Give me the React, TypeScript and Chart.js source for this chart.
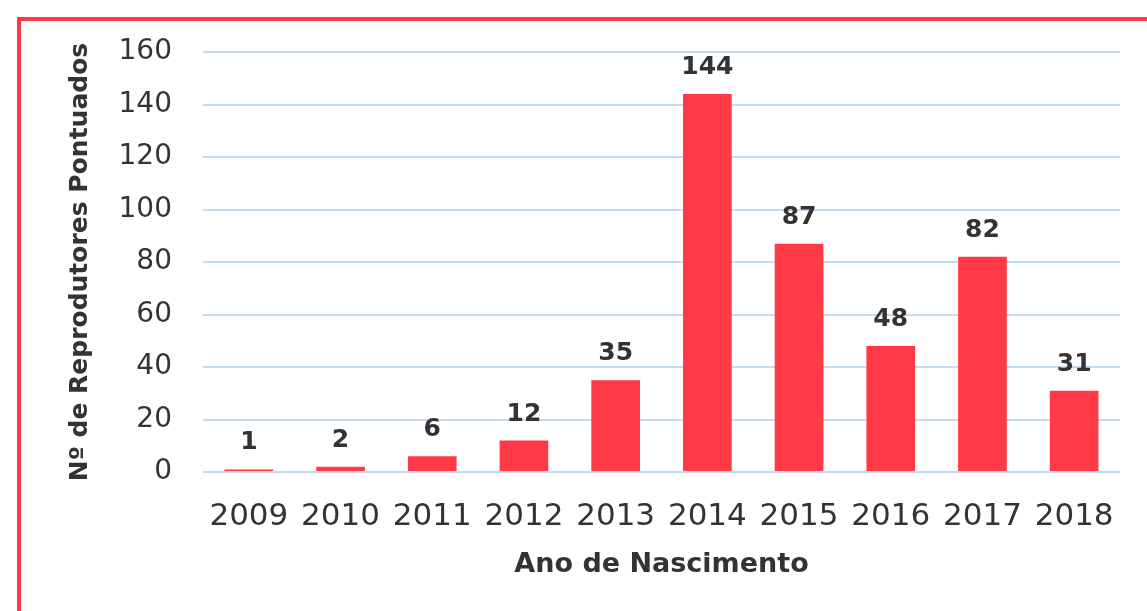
import React, { useEffect, useRef } from "react";
import { Chart, registerables } from "chart.js";

Chart.register(...registerables);

const categories = ["2009", "2010", "2011", "2012", "2013", "2014", "2015", "2016", "2017", "2018"];
const values = [1, 2, 6, 12, 35, 144, 87, 48, 82, 31];
const yTicks = [0, 20, 40, 60, 80, 100, 120, 140, 160];
const xTitle = "Ano de Nascimento";
const yTitle = "Nº de Reprodutores Pontuados";

const FONT = "'DejaVu Sans', sans-serif";
const TEXT = "#333333";
const RED = "#FF3A46";

const valueLabels = {
  id: "valueLabels",
  afterDatasetsDraw(chart: any) {
    const ctx = chart.ctx;
    const meta = chart.getDatasetMeta(0);
    ctx.save();
    ctx.font = `bold 25px ${FONT}`;
    ctx.fillStyle = TEXT;
    ctx.textAlign = "center";
    ctx.textBaseline = "alphabetic";
    meta.data.forEach((bar: any, i: number) => {
      ctx.fillText(String(values[i]), bar.x, bar.y - 20);
    });
    ctx.restore();
  },
};

export default function App() {
  const ref = useRef<HTMLCanvasElement>(null);
  useEffect(() => {
    if (!ref.current) return;
    const chart = new Chart(ref.current, {
      type: "bar",
      data: {
        labels: categories,
        datasets: [
          {
            data: values,
            backgroundColor: RED,
            borderWidth: 0,
            barPercentage: 0.9,
            categoryPercentage: 0.59,
          },
        ],
      },
      options: {
        responsive: false,
        animation: false,
        layout: { padding: { left: 58, right: 27, top: 52, bottom: 20 } },
        plugins: { legend: { display: false }, tooltip: { enabled: false } },
        scales: {
          x: {
            grid: { display: false, drawTicks: false },
            border: { display: false },
            ticks: { color: TEXT, font: { family: FONT, size: 31 }, padding: 26, maxRotation: 0 },
            title: {
              display: true,
              text: xTitle,
              color: TEXT,
              font: { family: FONT, size: 27, weight: "bold" },
              padding: { top: 0, bottom: 10 },
            },
            afterFit: (s: any) => {
              s.height = 119;
            },
          },
          y: {
            min: 0,
            max: 160,
            afterBuildTicks: (s: any) => {
              s.ticks = yTicks.map((v) => ({ value: v }));
            },
            grid: { color: "#C6DBF0", lineWidth: 2, drawTicks: false },
            border: { display: false },
            ticks: { color: TEXT, font: { family: FONT, size: 28 }, padding: 31 },
            title: {
              display: true,
              text: yTitle,
              color: TEXT,
              font: { family: FONT, size: 25, weight: "bold" },
              padding: { top: 7, bottom: 0 },
            },
            afterFit: (s: any) => {
              s.width = 145;
            },
          },
        },
      },
      plugins: [valueLabels],
    });
    return () => chart.destroy();
  }, []);

  return (
    <div style={{ position: "fixed", left: 0, top: 0, width: 1147, height: 611, background: "#fff", overflow: "hidden" }}>
      <div
        style={{
          position: "absolute",
          left: 17,
          top: 17,
          width: 1200,
          height: 700,
          borderTop: `4px solid ${RED}`,
          borderLeft: `4px solid ${RED}`,
        }}
      />
      <canvas ref={ref} width={1147} height={611} style={{ position: "absolute", left: 0, top: 0 }} />
    </div>
  );
}
